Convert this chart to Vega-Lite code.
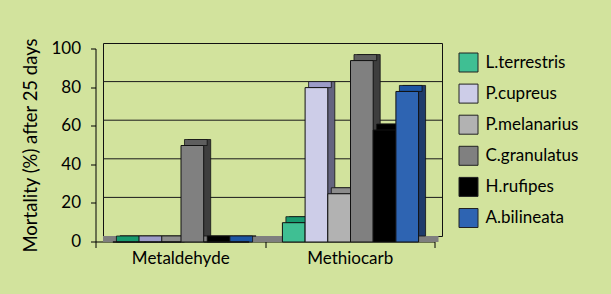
{
  "$schema": "https://vega.github.io/schema/vega-lite/v6.json",
  "width": 339,
  "height": 193,
  "autosize": {"type": "none"},
  "padding": {"left": 103, "top": 43, "right": 169, "bottom": 58},
  "background": "#D2E39D",
  "config": {
    "view": {"stroke": "#111111", "strokeWidth": 1},
    "font": "Lato",
    "axisY": {
      "title": "Mortality (%) after 25 days", "offset": 13, "translate": 6, "values": [0, 20, 40, 60, 80, 100], "tickCount": 6,
      "labelOverlap": false, "grid": false, "domainColor": "#000000", "tickColor": "#000000", "tickSize": 5,
      "labelFont": "Lato", "labelFontSize": 17, "labelPadding": 10, "labelColor": "#000000",
      "titleFont": "Lato", "titleFontSize": 18.5, "titleFontWeight": "normal", "titleColor": "#000000", "titlePadding": 10
    }
  },
  "layer": [
    {
      "data": {"values": [{"g": 20}, {"g": 40}, {"g": 60}, {"g": 80}]},
      "mark": {"type": "rule", "color": "#1a1a1a", "strokeWidth": 1},
      "encoding": {
        "y": {
          "field": "g", "type": "quantitative", "scale": {"domain": [0, 100], "nice": false},
          "axis": {"title": "Mortality (%) after 25 days", "values": [0, 20, 40, 60, 80, 100], "grid": false, "labelOverlap": false}
        }
      }
    },
    {
      "data": {"values": [{"floor": 0}]},
      "mark": {"type": "rule", "color": "#7f7f7f", "strokeWidth": 6, "xOffset": -3.5, "x2Offset": -3.5, "yOffset": 3, "y2Offset": 3},
      "encoding": {
        "y": {
          "field": "floor", "type": "quantitative",
          "axis": {"title": "Mortality (%) after 25 days", "values": [0, 20, 40, 60, 80, 100], "grid": false, "labelOverlap": false}
        }
      }
    },
    {
      "data": {
        "values": [
          {"treatment": "Metaldehyde", "species": "L.terrestris", "mortality": 0},
          {"treatment": "Metaldehyde", "species": "P.cupreus", "mortality": 0},
          {"treatment": "Metaldehyde", "species": "P.melanarius", "mortality": 0},
          {"treatment": "Metaldehyde", "species": "C.granulatus", "mortality": 50},
          {"treatment": "Metaldehyde", "species": "H.rufipes", "mortality": 0},
          {"treatment": "Metaldehyde", "species": "A.bilineata", "mortality": 0},
          {"treatment": "Methiocarb", "species": "L.terrestris", "mortality": 10},
          {"treatment": "Methiocarb", "species": "P.cupreus", "mortality": 80},
          {"treatment": "Methiocarb", "species": "P.melanarius", "mortality": 25},
          {"treatment": "Methiocarb", "species": "C.granulatus", "mortality": 94},
          {"treatment": "Methiocarb", "species": "H.rufipes", "mortality": 58},
          {"treatment": "Methiocarb", "species": "A.bilineata", "mortality": 78}
        ]
      },
      "encoding": {
        "x": {
          "field": "treatment", "type": "nominal", "sort": ["Metaldehyde", "Methiocarb"],
          "scale": {"paddingInner": 0, "paddingOuter": 0},
          "axis": {
            "title": null, "orient": "bottom", "offset": 13, "translate": -7, "tickBand": "extent",
            "domainColor": "#000000", "tickColor": "#000000", "tickSize": 6,
            "labelFont": "Lato", "labelFontSize": 17, "labelColor": "#000000", "labelPadding": 3, "labelAngle": 0, "grid": false
          }
        },
        "y": {
          "field": "mortality", "type": "quantitative",
          "scale": {"domain": [0, 100], "nice": false},
          "axis": {"title": "Mortality (%) after 25 days", "values": [0, 20, 40, 60, 80, 100], "grid": false, "labelOverlap": false}
        }
      },
      "layer": [
        {
          "mark": {"type": "bar", "stroke": "#111111", "strokeWidth": 0.8},
          "encoding": {
            "xOffset": {
              "field": "species", "type": "nominal",
              "sort": ["L.terrestris", "P.cupreus", "P.melanarius", "C.granulatus", "H.rufipes", "A.bilineata"],
              "scale": {"paddingInner": 0, "paddingOuter": 0.745, "range": [0, 170]}
            },
            "color": {
              "field": "species", "type": "nominal",
              "scale": {
                "domain": ["L.terrestris", "P.cupreus", "P.melanarius", "C.granulatus", "H.rufipes", "A.bilineata"],
                "range": ["#0F6B4C", "#64647F", "#6E6E6E", "#3E3E3E", "#000000", "#1F3C6B"]
              },
              "legend": null
            }
          }
        },
        {
          "mark": {"type": "tick", "thickness": 6, "size": 22.7, "yOffset": 3, "stroke": "#111111", "strokeWidth": 0.8, "opacity": 1},
          "encoding": {
            "xOffset": {
              "field": "species", "type": "nominal",
              "sort": ["L.terrestris", "P.cupreus", "P.melanarius", "C.granulatus", "H.rufipes", "A.bilineata"],
              "scale": {"paddingInner": 0, "paddingOuter": 0.745, "range": [-3.5, 166.5]}
            },
            "color": {
              "field": "species", "type": "nominal",
              "scale": {
                "domain": ["L.terrestris", "P.cupreus", "P.melanarius", "C.granulatus", "H.rufipes", "A.bilineata"],
                "range": ["#179A6E", "#9C9CC8", "#8C8C8C", "#5E5E5E", "#000000", "#1C55A3"]
              },
              "legend": null
            }
          }
        },
        {
          "mark": {"type": "bar", "yOffset": 6, "y2Offset": 6, "stroke": "#111111", "strokeWidth": 1},
          "encoding": {
            "xOffset": {
              "field": "species", "type": "nominal",
              "sort": ["L.terrestris", "P.cupreus", "P.melanarius", "C.granulatus", "H.rufipes", "A.bilineata"],
              "scale": {"paddingInner": 0, "paddingOuter": 0.745, "range": [-7, 163]}
            },
            "color": {
              "field": "species", "type": "nominal",
              "scale": {
                "domain": ["L.terrestris", "P.cupreus", "P.melanarius", "C.granulatus", "H.rufipes", "A.bilineata"],
                "range": ["#3FBF93", "#CDCDE8", "#B2B2B2", "#808080", "#000000", "#2E64B2"]
              },
              "legend": {
                "title": null, "orient": "right", "offset": 6.5, "padding": 9.5,
                "symbolType": "square", "symbolSize": 361, "symbolStrokeColor": "#222222", "symbolStrokeWidth": 1, "symbolOpacity": 1,
                "labelFont": "Lato", "labelFontSize": 17, "labelColor": "#000000", "rowPadding": 7.1, "labelOffset": 7
              }
            }
          }
        }
      ],
      "resolve": {"scale": {"color": "independent", "xOffset": "independent"}}
    }
  ]
}
